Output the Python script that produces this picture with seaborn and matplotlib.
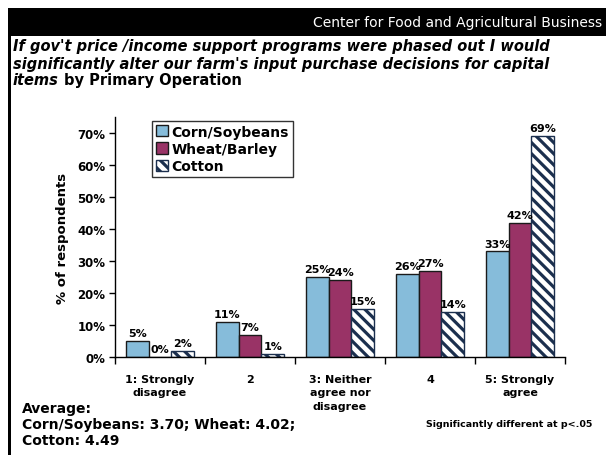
import matplotlib
matplotlib.use("Agg")
import matplotlib.pyplot as plt
import seaborn as sns
import pandas as pd
from matplotlib.patches import Patch, Rectangle

categories = ["1: Strongly\ndisagree", "2", "3: Neither\nagree nor\ndisagree", "4", "5: Strongly\nagree"]
series = ["Corn/Soybeans", "Wheat/Barley", "Cotton"]
corn = [5, 11, 25, 26, 33]
wheat = [0, 7, 24, 27, 42]
cotton = [2, 1, 15, 14, 69]
yticks = [0, 10, 20, 30, 40, 50, 60, 70]

colors = ["#86BCDA", "#993366", "#FFFFFF"]
navy = "#1B2F4E"
HATCH = "\\\\\\"

sns.set_theme(style="white")
plt.rcParams["font.family"] = ["DejaVu Sans"]
plt.rcParams["hatch.linewidth"] = 2.3
plt.rcParams["hatch.color"] = navy
for k in ["text.color", "axes.labelcolor", "xtick.color", "ytick.color"]:
    plt.rcParams[k] = "black"

rows = []
for s, vals in zip(series, [corn, wheat, cotton]):
    for c, v in zip(categories, vals):
        rows.append({"cat": c, "series": s, "val": v})
df = pd.DataFrame(rows)

fig = plt.figure(figsize=(6.06, 4.56), dpi=100)
fig.patch.set_facecolor("white")
ax = fig.add_axes([115 / 606, 1 - 358 / 456, 450 / 606, 240 / 456])

sns.barplot(data=df, x="cat", y="val", hue="series", order=categories,
            hue_order=series, palette=colors, width=0.76, saturation=1,
            edgecolor="#1a1a1a", linewidth=1.0, ax=ax, legend=False,
            errorbar=None)

for i, cont in enumerate(ax.containers):
    for p in cont:
        if i == 2:
            p.set_facecolor("white")
            p.set_hatch(HATCH)
            p.set_edgecolor(navy)
        p.set_linewidth(1.0)
    ax.bar_label(cont, labels=[f"{int(v)}%" for v in cont.datavalues],
                 padding=2, fontsize=8, fontweight="bold", color="black")

ax.set_ylim(0, 75)
ax.set_xlim(-0.5, 4.5)
ax.set_yticks(yticks)
ax.set_yticklabels([f"{t}%" for t in yticks], fontsize=8.5, fontweight="bold")
ax.set_xticks(range(len(categories)))
ax.set_xticklabels(categories, fontsize=8, fontweight="bold", linespacing=1.45)
ax.tick_params(axis="x", which="major", length=0, pad=12)
ax.set_xticks([-0.5, 0.5, 1.5, 2.5, 3.5, 4.5], minor=True)
ax.tick_params(axis="x", which="minor", length=5, width=1, color="black", direction="out", bottom=True)
ax.tick_params(axis="y", length=4, width=1, color="black", direction="out", left=True, pad=3)
ax.set_xlabel("")
ax.set_ylabel("% of respondents", fontsize=9.5, fontweight="bold", labelpad=6)
for s in ["top", "right"]:
    ax.spines[s].set_visible(False)
for s in ["left", "bottom"]:
    ax.spines[s].set_color("black")
    ax.spines[s].set_linewidth(1.0)
ax.set_facecolor("white")
ax.grid(False)

handles = [Patch(facecolor=colors[0], edgecolor="#1a1a1a", linewidth=1),
           Patch(facecolor=colors[1], edgecolor="#1a1a1a", linewidth=1),
           Patch(facecolor="white", edgecolor=navy, hatch="\\\\\\", linewidth=1)]
leg = ax.legend(handles, series, loc="upper left", bbox_to_anchor=(0.082, 0.985),
                borderaxespad=0, frameon=True, fancybox=False, shadow=False,
                prop={"weight": "bold", "size": 10}, handlelength=0.85,
                handleheight=0.85, handletextpad=0.25, labelspacing=0.22,
                borderpad=0.3)
leg.get_frame().set_edgecolor("black")
leg.get_frame().set_linewidth(1.0)

# header band and border
fig.add_artist(Rectangle((9 / 606, 1 - 37 / 456), 1, 28 / 456, transform=fig.transFigure,
                         facecolor="black", edgecolor="none"))
fig.add_artist(Rectangle((8 / 606, 0), 2.5 / 606, 1 - 9 / 456, transform=fig.transFigure,
                         facecolor="black", edgecolor="none"))
fig.text(602 / 606, 1 - 23 / 456, "Center for Food and Agricultural Business", color="white",
         fontsize=10, ha="right", va="center", family="DejaVu Sans")

fs_t = 10.5
fig.text(13 / 606, 1 - 47 / 456,
         "If gov't price /income support programs were phased out I would",
         fontsize=fs_t, fontweight="bold", fontstyle="italic", va="center")
fig.text(13 / 606, 1 - 64 / 456,
         "significantly alter our farm's input purchase decisions for capital",
         fontsize=fs_t, fontweight="bold", fontstyle="italic", va="center")
t = fig.text(13 / 606, 1 - 81 / 456, "items", fontsize=fs_t, fontweight="bold",
             fontstyle="italic", va="center")
fig.canvas.draw()
bb = t.get_window_extent()
fig.text(bb.x1 / 606 + 5 / 606, 1 - 81 / 456, "by Primary Operation", fontsize=fs_t,
         fontweight="bold", va="center")

fig.text(22 / 606, 1 - 409 / 456, "Average:", fontsize=10, fontweight="bold", va="center")
fig.text(22 / 606, 1 - 425 / 456, "Corn/Soybeans: 3.70; Wheat: 4.02;", fontsize=10,
         fontweight="bold", va="center")
fig.text(22 / 606, 1 - 441 / 456, "Cotton: 4.49", fontsize=10, fontweight="bold", va="center")
fig.text(592 / 606, 1 - 425 / 456, "Significantly different at p<.05", fontsize=6.8,
         fontweight="bold", va="center", ha="right")

fig.savefig("out.png", dpi=100, facecolor="white")
